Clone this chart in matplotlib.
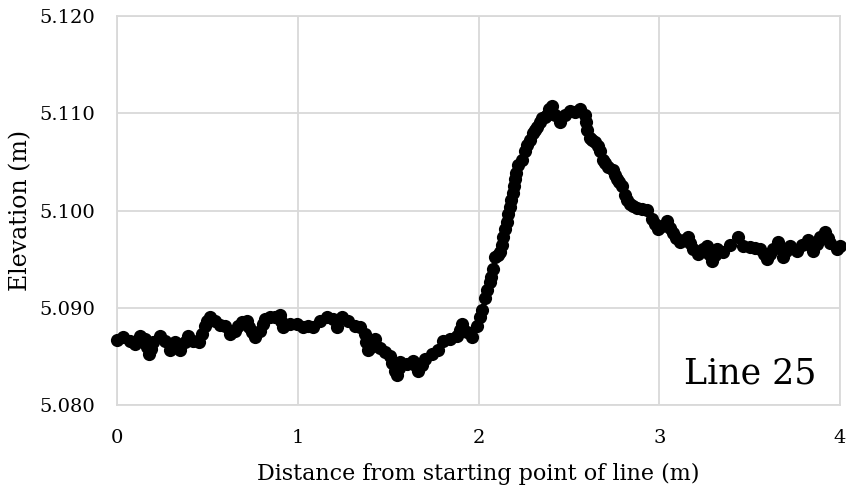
import numpy as np
import matplotlib
matplotlib.use("Agg")
import matplotlib.pyplot as plt
from matplotlib.ticker import FormatStrFormatter

# Distance from starting point of line (m)
distance = [
    0.000, 0.033, 0.072, 0.100, 0.127, 0.155, 0.177, 0.199, 0.238, 0.266,
    0.293, 0.321, 0.349, 0.376, 0.393, 0.420, 0.454, 0.487, 0.515, 0.542,
    0.570, 0.598, 0.625, 0.653, 0.692, 0.719, 0.747, 0.763, 0.791, 0.819,
    0.846, 0.874, 0.902, 0.918, 0.957, 0.996, 1.029, 1.057, 1.084, 1.123,
    1.162, 1.195, 1.217, 1.245, 1.278, 1.317, 1.344, 1.372, 1.389, 1.427,
    1.455, 1.483, 1.510, 1.521, 1.538, 1.549, 1.566, 1.604, 1.638, 1.665,
    1.704, 1.743, 1.776, 1.804, 1.842, 1.881, 1.909, 1.936, 1.964, 1.992,
    2.008, 2.019, 2.036, 2.047, 2.064, 2.069, 2.080, 2.091, 2.108, 2.119,
    2.136, 2.147, 2.158, 2.163, 2.174, 2.180, 2.191, 2.197, 2.202, 2.208,
    2.219, 2.241, 2.257, 2.268, 2.285, 2.302, 2.313, 2.324, 2.340, 2.351,
    2.368, 2.379, 2.390, 2.407, 2.423, 2.451, 2.479, 2.506, 2.534, 2.562,
    2.589, 2.595, 2.600, 2.617, 2.628, 2.645, 2.661, 2.672, 2.689, 2.700,
    2.716, 2.744, 2.755, 2.766, 2.777, 2.794, 2.811, 2.822, 2.838, 2.855,
    2.877, 2.904, 2.932, 2.960, 2.977, 2.993, 3.015, 3.043, 3.076, 3.092,
    3.115, 3.137, 3.159, 3.170, 3.187, 3.214, 3.264, 3.292, 3.320, 3.353,
    3.391, 3.436, 3.463, 3.502, 3.557, 3.596, 3.629, 3.657, 3.685, 3.723,
    3.762, 3.790, 3.823, 3.851, 3.889, 3.917, 3.945, 3.983, 4.000,
    0.166, 0.188, 0.470, 0.500, 0.672, 0.733, 0.805, 0.910, 1.380, 1.408,
    1.558, 1.652, 1.685, 1.895, 2.128, 3.060, 3.240, 3.278, 3.306, 3.530,
    3.577, 3.612, 3.671, 3.704, 3.837, 3.870, 3.931,
]

# Elevation (m)
elevation = [
    5.0867, 5.0870, 5.0866, 5.0863, 5.0871, 5.0868, 5.0852, 5.0865, 5.0871, 5.0866,
    5.0857, 5.0865, 5.0857, 5.0865, 5.0871, 5.0866, 5.0865, 5.0881, 5.0890, 5.0886,
    5.0882, 5.0881, 5.0873, 5.0876, 5.0885, 5.0886, 5.0875, 5.0870, 5.0876, 5.0888,
    5.0890, 5.0891, 5.0893, 5.0880, 5.0883, 5.0883, 5.0880, 5.0881, 5.0880, 5.0886,
    5.0891, 5.0888, 5.0880, 5.0891, 5.0886, 5.0881, 5.0880, 5.0873, 5.0857, 5.0868,
    5.0859, 5.0854, 5.0850, 5.0843, 5.0835, 5.0831, 5.0844, 5.0842, 5.0845, 5.0835,
    5.0847, 5.0852, 5.0857, 5.0866, 5.0868, 5.0871, 5.0883, 5.0875, 5.0870, 5.0881,
    5.0890, 5.0898, 5.0910, 5.0918, 5.0926, 5.0932, 5.0940, 5.0952, 5.0954, 5.0957,
    5.0973, 5.0981, 5.0988, 5.0996, 5.1004, 5.1011, 5.1018, 5.1025, 5.1032, 5.1039,
    5.1047, 5.1052, 5.1061, 5.1067, 5.1073, 5.1080, 5.1083, 5.1086, 5.1091, 5.1095,
    5.1096, 5.1098, 5.1104, 5.1107, 5.1098, 5.1091, 5.1098, 5.1102, 5.1101, 5.1104,
    5.1098, 5.1091, 5.1083, 5.1075, 5.1073, 5.1070, 5.1066, 5.1061, 5.1052, 5.1049,
    5.1045, 5.1042, 5.1037, 5.1032, 5.1029, 5.1025, 5.1016, 5.1011, 5.1007, 5.1005,
    5.1003, 5.1002, 5.1001, 5.0991, 5.0986, 5.0981, 5.0984, 5.0989, 5.0977, 5.0972,
    5.0968, 5.0970, 5.0973, 5.0967, 5.0960, 5.0955, 5.0963, 5.0948, 5.0960, 5.0957,
    5.0965, 5.0973, 5.0963, 5.0962, 5.0960, 5.0950, 5.0960, 5.0968, 5.0952, 5.0963,
    5.0958, 5.0965, 5.0970, 5.0958, 5.0973, 5.0978, 5.0967, 5.0960, 5.0963,
    5.0860, 5.0858, 5.0873, 5.0886, 5.0881, 5.0880, 5.0883, 5.0886, 5.0865, 5.0860,
    5.0838, 5.0840, 5.0841, 5.0877, 5.0965, 5.0982, 5.0960, 5.0955, 5.0954, 5.0961,
    5.0955, 5.0955, 5.0960, 5.0958, 5.0964, 5.0966, 5.0972,
]

x_ticks = [0, 1, 2, 3, 4]
y_ticks = [5.080, 5.090, 5.100, 5.110, 5.120]

FONT = "DejaVu Serif"
plt.rcParams["font.family"] = [FONT, "DejaVu Sans"]

order = np.argsort(distance)
xs = np.asarray(distance)[order]
ys = np.asarray(elevation)[order]

fig = plt.figure(figsize=(8.46, 4.91), dpi=100)
ax = fig.add_axes([117 / 846, 1 - 405 / 491, 723 / 846, 389 / 491])

ax.plot(xs, ys, linestyle="none", marker="o", markersize=9.5,
        color="black", markeredgewidth=0, clip_on=False, zorder=3)

ax.set_xlim(0, 4)
ax.set_ylim(5.080, 5.120)
ax.set_xticks(x_ticks)
ax.set_yticks(y_ticks)
ax.yaxis.set_major_formatter(FormatStrFormatter("%.3f"))
ax.grid(True, color="#d9d9d9", linewidth=1.3)
ax.set_axisbelow(True)
for s in ax.spines.values():
    s.set_color("#d9d9d9")
    s.set_linewidth(1.3)
ax.tick_params(length=0, labelsize=14, colors="black")
ax.tick_params(axis="y", pad=16)
ax.tick_params(axis="x", pad=17)

ax.set_xlabel("Distance from starting point of line (m)", fontsize=16, labelpad=12)
ax.set_ylabel("Elevation (m)", fontsize=17, labelpad=5)

ax.text(0.968, 0.056, "Line 25", transform=ax.transAxes, ha="right",
        va="baseline", fontsize=25)

fig.savefig("out.png", dpi=100)
